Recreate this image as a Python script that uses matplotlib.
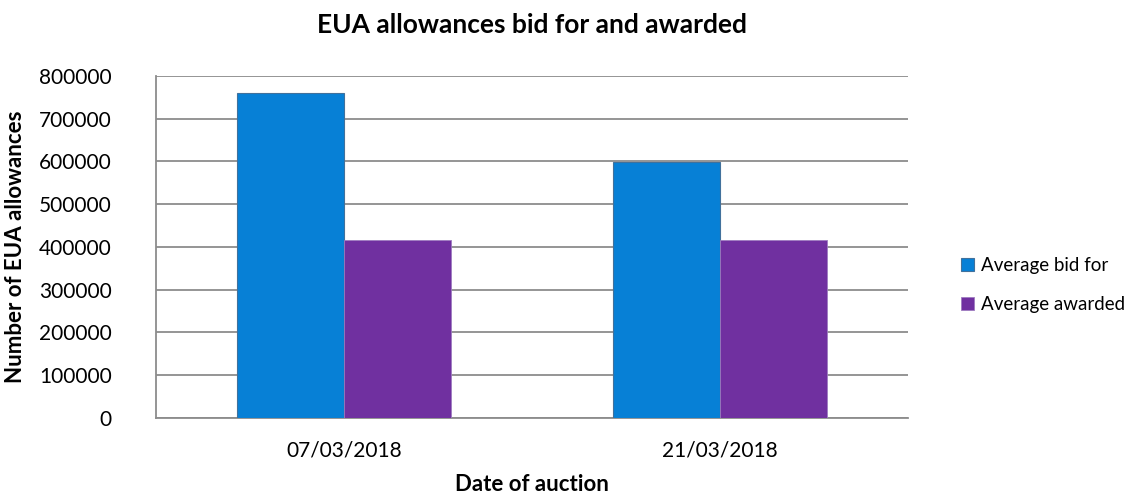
import numpy as np
import matplotlib.pyplot as plt

plt.rcParams['font.family'] = ['Lato', 'DejaVu Sans']

dates = ['07/03/2018', '21/03/2018']
bid_for = [761000, 599000]
awarded = [416500, 417000]

fig = plt.figure(figsize=(11.42, 4.95), dpi=100)
ax = fig.add_axes([0.1366, 0.1556, 0.6585, 0.6909])

x = np.arange(len(dates))
w = 0.285
ax.bar(x - w / 2, bid_for, w, color='#0780D6', edgecolor='#41719C', linewidth=0.8,
       label='Average bid for', zorder=3)
ax.bar(x + w / 2, awarded, w, color='#7030A0', edgecolor='#9E7CC0', linewidth=0.6,
       label='Average awarded', zorder=3)

ax.set_xlim(-0.5, 1.5)
ax.set_ylim(0, 800000)
ax.set_yticks(range(0, 800001, 100000))
ax.set_xticks(x)
ax.set_xticklabels(dates)
ax.yaxis.grid(True, color='#8C8C8C', linewidth=1.3, zorder=0)
ax.tick_params(axis='both', length=0, labelsize=15)
ax.tick_params(axis='y', pad=32)
ax.tick_params(axis='x', pad=16)
for s in ['top', 'right']:
    ax.spines[s].set_visible(False)
for s in ['left', 'bottom']:
    ax.spines[s].set_color('#8C8C8C')
    ax.spines[s].set_linewidth(1.3)

ax.set_title('EUA allowances bid for and awarded', fontsize=19, fontweight='bold', pad=31)
ax.set_xlabel('Date of auction', fontsize=16, fontweight='bold', labelpad=10)
ax.set_ylabel('Number of EUA allowances', fontsize=16, fontweight='bold', labelpad=9)

ax.legend(loc='center left', bbox_to_anchor=(961 / 1142, 0.424), bbox_transform=fig.transFigure,
          frameon=False, fontsize=13.5, borderpad=0, borderaxespad=0,
          handlelength=0.7, handleheight=0.7, handletextpad=0.35, labelspacing=1.15)

fig.savefig('out.png', dpi=100)
